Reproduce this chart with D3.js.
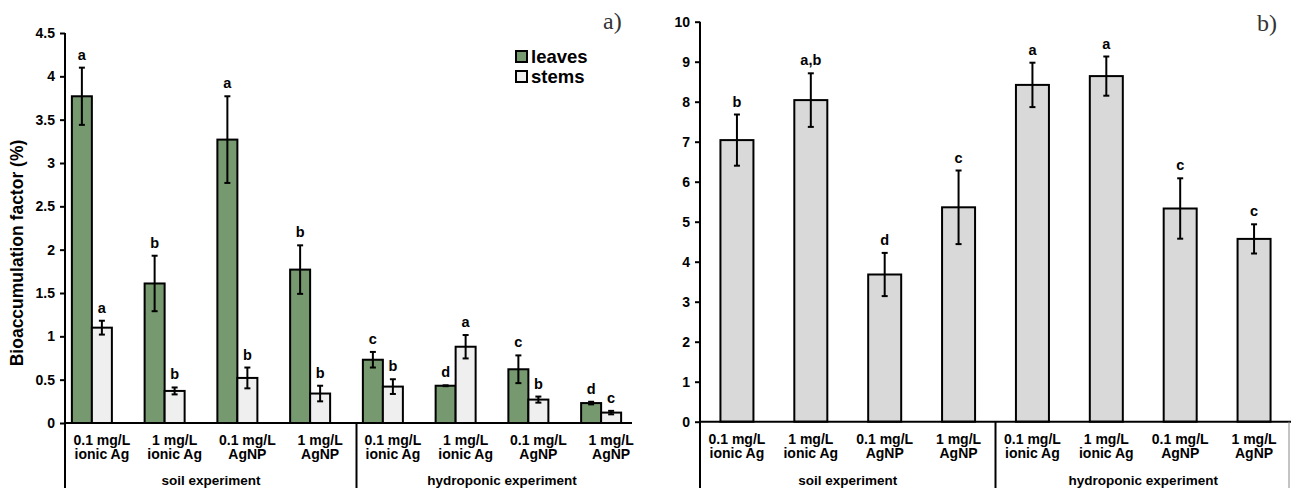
<!DOCTYPE html>
<html>
<head>
<meta charset="utf-8">
<script src="https://cdnjs.cloudflare.com/ajax/libs/d3/7.8.5/d3.min.js"></script>
<style>
  body { margin: 0; background: #fff; }
  svg { display: block; font-family: "Liberation Sans", Arial, sans-serif; }
  .bold { font-weight: bold; }
</style>
</head>
<body>
<svg id="chart" width="1291" height="488"></svg>
<script>
// treatments (same order in both panels)
var treatLine1 = ["0.1 mg/L", "1 mg/L", "0.1 mg/L", "1 mg/L", "0.1 mg/L", "1 mg/L", "0.1 mg/L", "1 mg/L"];
var treatLine2 = ["ionic Ag", "ionic Ag", "AgNP", "AgNP", "ionic Ag", "ionic Ag", "AgNP", "AgNP"];
var experiments = ["soil experiment", "hydroponic experiment"];

// panel a) bioaccumulation in leaves and stems
var leaves = [3.77, 1.61, 3.27, 1.77, 0.73, 0.43, 0.62, 0.23];
var leavesErr = [0.33, 0.32, 0.50, 0.28, 0.09, 0.005, 0.16, 0.015];
var leavesLetters = ["a", "b", "a", "b", "c", "d", "c", "d"];
var stems = [1.10, 0.37, 0.52, 0.34, 0.42, 0.88, 0.27, 0.12];
var stemsErr = [0.08, 0.04, 0.12, 0.09, 0.085, 0.135, 0.035, 0.02];
var stemsLetters = ["a", "b", "b", "b", "b", "a", "b", "c"];
var ticksA = [0, 0.5, 1, 1.5, 2, 2.5, 3, 3.5, 4, 4.5];

// panel b) whole plant
var total = [7.04, 8.04, 3.68, 5.36, 8.42, 8.64, 5.33, 4.57];
var totalErr = [0.64, 0.67, 0.54, 0.92, 0.555, 0.49, 0.755, 0.365];
var totalLetters = ["b", "a,b", "d", "c", "a", "a", "c", "c"];
var ticksB = [0, 1, 2, 3, 4, 5, 6, 7, 8, 9, 10];

var svg = d3.select("#chart");
var idx = d3.range(treatLine1.length);
var fmt = d3.format("~g");

function errorBars(g, xc, y, vals, errs) {
  var eb = g.append("g").attr("stroke", "#000").attr("stroke-width", 2);
  vals.forEach(function(v, i) {
    var x = xc(i), t = y(v + errs[i]), b = y(v - errs[i]);
    eb.append("line").attr("x1", x).attr("x2", x).attr("y1", t).attr("y2", b);
    eb.append("line").attr("x1", x - 3).attr("x2", x + 3).attr("y1", t).attr("y2", t);
    eb.append("line").attr("x1", x - 3).attr("x2", x + 3).attr("y1", b).attr("y2", b);
  });
}

function letters(g, xc, y, vals, errs, labs) {
  g.append("g").selectAll("text").data(labs).join("text")
    .attr("class", "bold")
    .attr("x", function(d, i) { return xc(i); })
    .attr("y", function(d, i) { return y(vals[i] + errs[i]) - 8; })
    .attr("text-anchor", "middle")
    .attr("font-size", 14.5)
    .text(function(d) { return d; });
}

function yAxis(g, y, ticks, x0, yTop) {
  var ax = g.append("g").attr("transform", "translate(" + x0 + ",0)")
    .call(d3.axisLeft(y).tickValues(ticks).tickFormat(fmt).tickSize(5).tickPadding(5));
  ax.select(".domain").remove();
  ax.selectAll(".tick line").attr("stroke", "#000").attr("stroke-width", 2);
  ax.selectAll(".tick text").attr("class", "bold").attr("font-size", 14)
    .attr("font-family", "Liberation Sans, Arial, sans-serif").attr("fill", "#000");
  g.append("line").attr("x1", x0).attr("x2", x0).attr("y1", yTop).attr("y2", 488)
    .attr("stroke", "#000").attr("stroke-width", 2);
}

function xLabels(g, xc, sepX, y0) {
  var lab = g.append("g").attr("class", "bold").attr("font-size", 14).attr("text-anchor", "middle");
  idx.forEach(function(i) {
    lab.append("text").attr("x", xc(i)).attr("y", y0 + 22).text(treatLine1[i]);
    lab.append("text").attr("x", xc(i)).attr("y", y0 + 36).text(treatLine2[i]);
  });
  lab.append("text").attr("x", (xc(0) + xc(3)) / 2).attr("y", 485).attr("font-size", 13.5).text(experiments[0]);
  lab.append("text").attr("x", (xc(4) + xc(7)) / 2).attr("y", 485).attr("font-size", 13.5).text(experiments[1]);
  g.append("line").attr("x1", sepX).attr("x2", sepX).attr("y1", y0).attr("y2", 488)
    .attr("stroke", "#000").attr("stroke-width", 2);
}

// ---------- panel a ----------
var gA = svg.append("g");
var yA = d3.scaleLinear().domain([0, 4.5]).range([423, 33]);
var xA = d3.scaleBand().domain(idx).range([55.5, 637.5]);
var xAlab = d3.scaleBand().domain(idx).range([65.5, 647.5]);
var sub = d3.scaleBand().domain(["leaves", "stems"]).range([0, 40]);
var barW = sub.bandwidth();
function cA(i) { return xA(i) + xA.bandwidth() / 2 - 20; }

gA.append("g").selectAll("rect").data(leaves).join("rect")
  .attr("x", function(d, i) { return cA(i) + sub("leaves"); })
  .attr("y", function(d) { return yA(d); })
  .attr("width", barW).attr("height", function(d) { return yA(0) - yA(d); })
  .attr("fill", "#76996f").attr("stroke", "#000").attr("stroke-width", 2);
gA.append("g").selectAll("rect").data(stems).join("rect")
  .attr("x", function(d, i) { return cA(i) + sub("stems"); })
  .attr("y", function(d) { return yA(d); })
  .attr("width", barW).attr("height", function(d) { return yA(0) - yA(d); })
  .attr("fill", "#efefef").attr("stroke", "#000").attr("stroke-width", 2);

var lxA = function(i) { return cA(i) + sub("leaves") + barW / 2; };
var sxA = function(i) { return cA(i) + sub("stems") + barW / 2; };
errorBars(gA, lxA, yA, leaves, leavesErr);
errorBars(gA, sxA, yA, stems, stemsErr);
letters(gA, lxA, yA, leaves, leavesErr, leavesLetters);
letters(gA, sxA, yA, stems, stemsErr, stemsLetters);

yAxis(gA, yA, ticksA, 65, 33);
gA.append("line").attr("x1", 65).attr("x2", 632).attr("y1", yA(0)).attr("y2", yA(0))
  .attr("stroke", "#000").attr("stroke-width", 2);
xLabels(gA, function(i) { return xAlab(i) + xAlab.bandwidth() / 2; }, xAlab(4), yA(0));

gA.append("text").attr("class", "bold").attr("font-size", 17.5)
  .attr("transform", "translate(23,253) rotate(-90)").attr("text-anchor", "middle")
  .text("Bioaccumulation factor (%)");

// legend
var leg = gA.append("g");
[["leaves", "#76996f"], ["stems", "#efefef"]].forEach(function(d, i) {
  leg.append("rect").attr("x", 516).attr("y", 51 + i * 20).attr("width", 11).attr("height", 11)
    .attr("fill", d[1]).attr("stroke", "#000").attr("stroke-width", 2);
  leg.append("text").attr("class", "bold").attr("font-size", 18.5)
    .attr("x", 531).attr("y", 63 + i * 20).text(d[0]);
});
gA.append("text").attr("x", 603).attr("y", 29).attr("font-size", 24)
  .attr("font-family", "Liberation Serif, Times New Roman, serif").attr("fill", "#333").text("a)");

// ---------- panel b ----------
var gB = svg.append("g");
var yB = d3.scaleLinear().domain([0, 10]).range([421.7, 21.7]);
var xB = d3.scaleBand().domain(idx).range([700, 1291]);
function cB(i) { return xB(i) + xB.bandwidth() / 2; }

gB.append("g").selectAll("rect").data(total).join("rect")
  .attr("x", function(d, i) { return cB(i) - 16.5; })
  .attr("y", function(d) { return yB(d); })
  .attr("width", 33).attr("height", function(d) { return yB(0) - yB(d); })
  .attr("fill", "#d9d9d9").attr("stroke", "#000").attr("stroke-width", 2);
errorBars(gB, cB, yB, total, totalErr);
letters(gB, cB, yB, total, totalErr, totalLetters);

yAxis(gB, yB, ticksB, 700, 21.7);
gB.append("line").attr("x1", 700).attr("x2", 1291).attr("y1", yB(0)).attr("y2", yB(0))
  .attr("stroke", "#000").attr("stroke-width", 2);
xLabels(gB, cB, xB(4), yB(0));
gB.append("line").attr("x1", 1289).attr("x2", 1289).attr("y1", yB(0)).attr("y2", 488)
  .attr("stroke", "#888").attr("stroke-width", 1);
gB.append("text").attr("x", 1257).attr("y", 31).attr("font-size", 24)
  .attr("font-family", "Liberation Serif, Times New Roman, serif").attr("fill", "#333").text("b)");
</script>
</body>
</html>
